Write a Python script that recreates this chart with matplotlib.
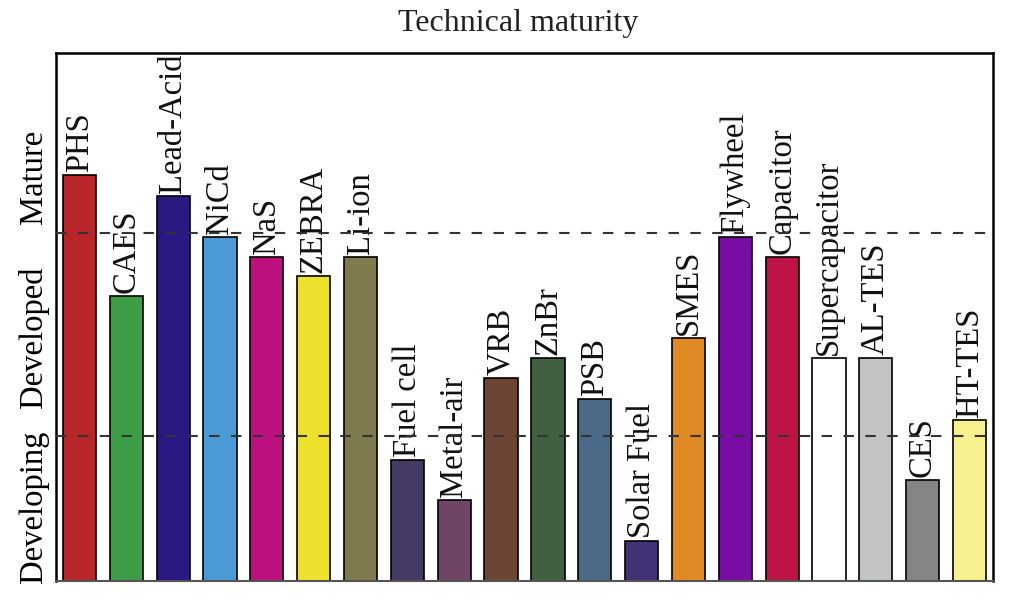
import numpy as np
import matplotlib
matplotlib.use('Agg')
import matplotlib.pyplot as plt

plt.rcParams['font.family'] = ['Liberation Serif', 'DejaVu Serif']

# ── Data (maturity score, 0-100 scale) ───────────────────────────────────────
techs = ['PHS', 'CAES', 'Lead-Acid', 'NiCd', 'NaS', 'ZEBRA', 'Li-ion',
         'Fuel cell', 'Metal-air', 'VRB', 'ZnBr', 'PSB', 'Solar Fuel', 'SMES',
         'Flywheel', 'Capacitor', 'Supercapacitor', 'AL-TES', 'CES', 'HT-TES']
maturity = [76.9, 54.0, 72.9, 65.2, 61.4, 57.8, 61.4,
            22.9, 15.3, 38.4, 42.2, 34.5, 7.6, 46.0,
            65.2, 61.4, 42.2, 42.2, 19.1, 30.5]
colors = ['#B8262A', '#3E9E48', '#2B1883', '#4A9AD6', '#BE1180', '#EEE12E',
          '#7F7B4E', '#443A64', '#6E4664', '#6C4535', '#41603F', '#4B6A88',
          '#433276', '#DF8A25', '#7A0CA6', '#BE1346', '#FFFFFF', '#C2C4C4',
          '#858585', '#F6F08F']
thresholds = [27.5, 65.9]
level_names = ['Developing', 'Developed', 'Mature']
level_pos = [14.0, 46.2, 76.5]

# ── Figure ───────────────────────────────────────────────────────────────────
fig = plt.figure(figsize=(10.24, 6.11), dpi=100)
ax = fig.add_axes([0.0547, 0.049, 0.915, 0.8643])

x = np.arange(len(techs))
bars = ax.bar(x, maturity, width=0.71, color=colors, edgecolor='black',
              linewidth=1.2, zorder=2)

for bar, name in zip(bars, techs):
    ax.text(bar.get_x() + bar.get_width() / 2, bar.get_height() + 0.6, name,
            rotation=90, ha='center', va='bottom', fontsize=23.5, color='#111111')

for t in thresholds:
    ax.axhline(t, color='#333333', linewidth=1.5, linestyle=(0, (5, 5.5)), zorder=3)

ax.set_xlim(-0.5, 19.5)
ax.set_ylim(0, 100)
ax.set_xticks([])

ax.set_yticks(level_pos)
ax.set_yticklabels(level_names, rotation=90, va='center', fontsize=23.5)
ax.tick_params(axis='y', which='major', length=0, pad=5)
ax.set_yticks(thresholds, minor=True)
ax.tick_params(axis='y', which='minor', direction='in', length=7, width=1.2)

for s in ['left', 'right', 'top']:
    ax.spines[s].set_linewidth(1.8)
    ax.spines[s].set_color('black')
ax.spines['bottom'].set_linewidth(1.5)
ax.spines['bottom'].set_color('#555555')

fig.text(0.506, 0.962, 'Technical maturity', ha='center', va='center',
         fontsize=23, color='#222222')

plt.savefig('out.png', dpi=100)
